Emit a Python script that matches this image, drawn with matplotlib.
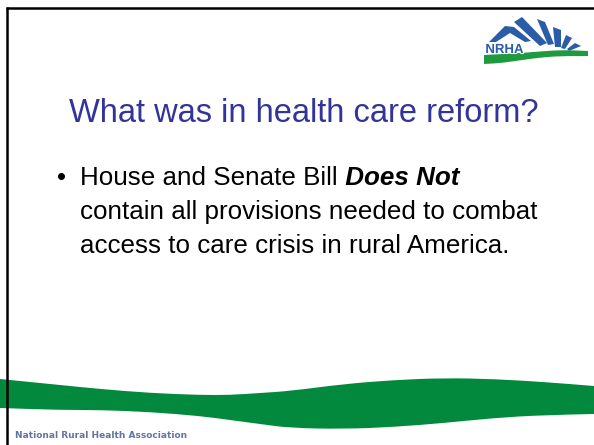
import numpy as np
import matplotlib
matplotlib.use("Agg")
import matplotlib.pyplot as plt
import matplotlib.patheffects as pe
from matplotlib.path import Path
from matplotlib.patches import PathPatch, Polygon

# slide size in pixels
W, H = 594, 445

title = "What was in health care reform?"
bullet_plain = "House and Senate Bill"
bullet_bold = " Does Not"
bullet_rest = ["contain all provisions needed to combat",
               "access to care crisis in rural America."]
footer = "National Rural Health Association"
logo_text = "NRHA"

# green wave at the bottom, edges (pixels)
wave_x = [0, 60, 100, 150, 200, 230, 260, 290, 344, 394, 444, 494, 544, 594]
wave_top = [379, 385, 389, 393, 395, 395, 393, 391, 384, 380, 378, 379, 382, 386]
wave_bot = [408, 410, 410, 412, 416, 420, 424, 428, 429, 427, 423, 418, 415, 414]

# logo shapes, slide pixels
logo_rays = [
    [(489, 42), (505, 26), (514, 27), (531, 41), (525, 42), (510, 33), (496, 42)],
    [(514, 22), (522, 17), (547, 43), (540, 46)],
    [(537, 19), (545, 22), (554, 44), (548, 45)],
    [(553, 27), (561, 30), (561, 47), (555, 47)],
    [(566, 35), (572, 38), (565, 49), (561, 48)],
    [(575, 43), (581, 46), (569, 51), (567, 49)],
]
logo_green_x = [484, 502, 522, 545, 565, 588]
logo_green_top = [55, 54, 53, 51, 50, 51]
logo_green_bot = [64, 63, 60, 57, 56, 56]


def smooth(xs, ys, first_code):
    # quadratic curve through the midpoints of the read points
    pts = list(zip(xs, ys))
    verts = [pts[0]]
    codes = [first_code]
    for i in range(1, len(pts) - 1):
        mid = ((pts[i][0] + pts[i + 1][0]) / 2, (pts[i][1] + pts[i + 1][1]) / 2)
        verts += [pts[i], mid]
        codes += [Path.CURVE3, Path.CURVE3]
    verts.append(pts[-1])
    codes.append(Path.LINETO)
    return verts, codes


def band(ax, xs, top, bot, color):
    v1, c1 = smooth(xs, top, Path.MOVETO)
    v2, c2 = smooth(xs[::-1], bot[::-1], Path.LINETO)
    verts = v1 + v2 + [v1[0]]
    codes = c1 + c2 + [Path.CLOSEPOLY]
    ax.add_patch(PathPatch(Path(verts, codes), facecolor=color, edgecolor='none'))


fig = plt.figure(figsize=(W / 100, H / 100), dpi=100)
ax = fig.add_axes([0, 0, 1, 1])
ax.set_xlim(0, W)
ax.set_ylim(H, 0)
ax.axis('off')

# green wave
band(ax, wave_x, wave_top, wave_bot, '#03893d')

# border lines top and left
ax.plot([6, W], [8, 8], color='black', lw=1.8, solid_capstyle='butt')
ax.plot([7, 7], [7, H], color='black', lw=1.8, solid_capstyle='butt')

# logo
for ray in logo_rays:
    ax.add_patch(Polygon(ray, closed=True, facecolor='#2a5ca8', edgecolor='none'))
band(ax, logo_green_x, logo_green_top, logo_green_bot, '#1f9a3e')
ax.text(504.5, 53, logo_text, ha='center', va='baseline', fontsize=9.5,
        fontweight='bold', color='#2a5ca8', family='Liberation Sans',
        path_effects=[pe.withStroke(linewidth=1.5, foreground='white')])

# title
ax.text(304, 122, title, ha='center', va='baseline', fontsize=23.5,
        color='#333399', family='Liberation Sans')

# bullet text
body = dict(fontsize=18.7, color='black', family='Liberation Sans')
ax.text(62, 185, '\u2022', ha='center', va='baseline', **body)
t1 = ax.text(80, 185, bullet_plain, ha='left', va='baseline', **body)
ax.annotate(bullet_bold, xy=(1, 0), xycoords=t1, ha='left', va='bottom',
            fontweight='bold', style='italic', **body)
for i, line in enumerate(bullet_rest):
    ax.text(80, 219 + 34 * i, line, ha='left', va='baseline', **body)

# footer
ax.text(15, 436, footer, ha='left', va='center', fontsize=6.5,
        fontweight='bold', color='#6274a0', family='DejaVu Sans')

fig.savefig('out.png', dpi=100)
